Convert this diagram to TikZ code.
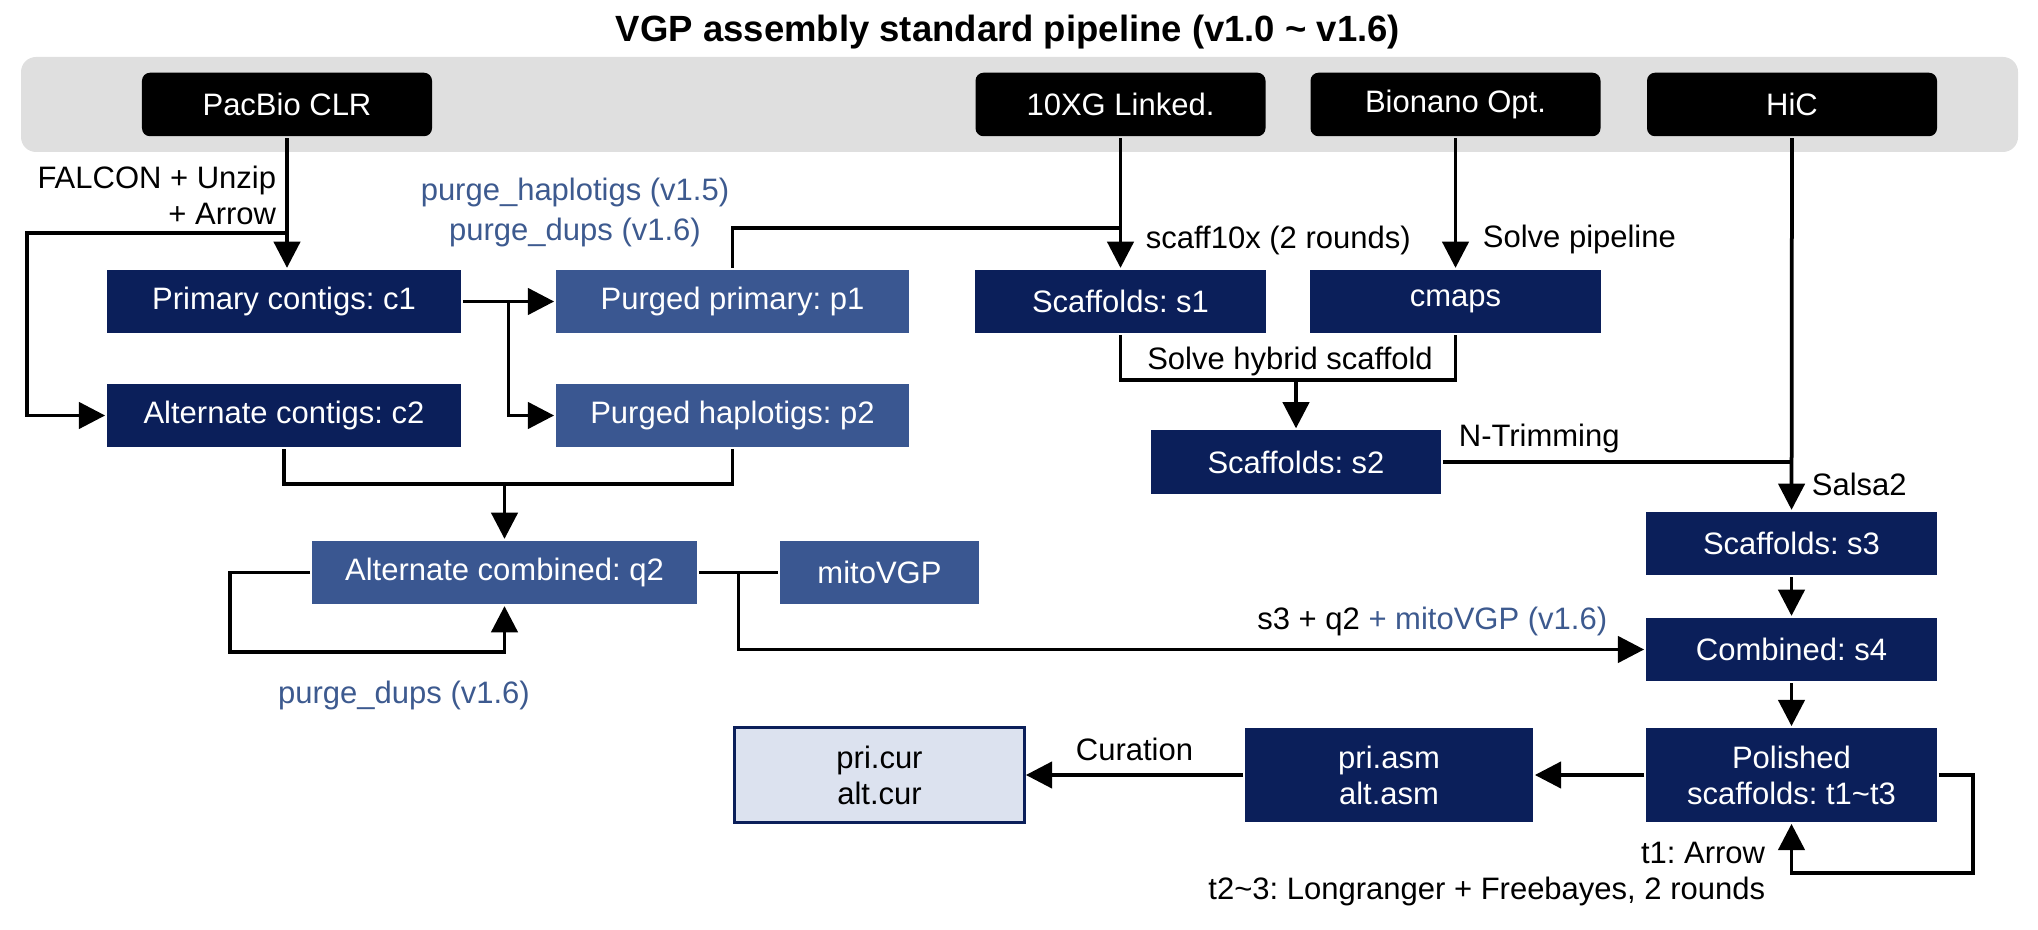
\documentclass[tikz,border=0pt]{standalone}
\usepackage{fontspec}
\setmainfont{Liberation Sans}
\usetikzlibrary{arrows.meta,calc}
\definecolor{navy}{RGB}{11,31,90}
\definecolor{midblue}{RGB}{58,87,145}
\definecolor{paleblue}{RGB}{220,226,239}
\definecolor{bandgray}{RGB}{223,223,223}
\definecolor{tagblue}{RGB}{61,90,143}
\frenchspacing

\begin{document}
\begin{tikzpicture}[x=0.4pt,y=-0.4pt,>={Triangle[length=10.5pt,width=10.5pt]},line width=1.5pt,
		font=\fontsize{12.4}{14.4}\selectfont,
		box/.style={minimum height=25.4pt,inner sep=0pt,text=white,align=center},
		src/.style={box,fill=black,rounded corners=3.2pt,minimum width=116pt},
		dark/.style={box,fill=navy},
		light/.style={box,fill=midblue},
		lbl/.style={inner sep=0pt},
		tag/.style={lbl,text=tagblue}]
		\useasboundingbox (0,0) rectangle (2038,930);
		\fill[bandgray,rounded corners=6pt] (21,57) rectangle (2018,152);
		\node[font=\bfseries\fontsize{14.6}{17}\selectfont] (title) at (1008,32) {VGP assembly standard pipeline (v1.0 \textasciitilde{} v1.6)};

		\node[src] (pb) at (287,104.5) {PacBio CLR};
		\node[src] (tx) at (1120.5,104.5) {10XG Linked.};
		\node[src] (bn) at (1455.5,104.5) {Bionano Opt.};
		\node[src] (hic) at (1792,104.5) {HiC};

		\node[dark,minimum width=141.6pt] (c1) at (284,301.5) {Primary contigs: c1};
		\node[dark,minimum width=141.6pt] (c2) at (284,415.5) {Alternate contigs: c2};
		\node[light,minimum width=141.2pt] (p1) at (732.5,301.5) {Purged primary: p1};
		\node[light,minimum width=141.2pt] (p2) at (732.5,415.5) {Purged haplotigs: p2};
		\node[light,minimum width=154pt] (q2) at (504.5,572.5) {Alternate combined: q2};
		\node[light,minimum width=79.6pt] (mt) at (879.5,572.5) {mitoVGP};

		\node[dark,minimum width=116.4pt] (s1) at (1120.5,301.5) {Scaffolds: s1};
		\node[dark,minimum width=116.4pt] (cm) at (1455.5,301.5) {cmaps};
		\node[dark,minimum width=116pt] (s2) at (1296,462) {Scaffolds: s2};
		\node[dark,minimum width=116.4pt] (s3) at (1791.5,543.5) {Scaffolds: s3};
		\node[dark,minimum width=116.4pt] (s4) at (1791.5,649.5) {Combined: s4};
		\node[dark,minimum width=116.4pt,minimum height=37.6pt] (t1) at (1791.5,775) {Polished\\scaffolds: t1\textasciitilde t3};
		\node[dark,minimum width=115.2pt,minimum height=37.6pt] (asm) at (1389,775) {pri.asm\\alt.asm};
		\node[box,fill=paleblue,draw=navy,line width=1.1pt,text=black,minimum width=116pt,minimum height=38pt] (cur) at (879.5,775) {pri.cur\\alt.cur};

		\coordinate (fl) at (27,233);
		\coordinate (pj) at (0,228);
		\coordinate (hy) at (0,380);
		\coordinate (aj) at (0,484);
		\coordinate (ql) at (230,652);
		\coordinate (tl) at (1973,873);

		\draw[->] (pb.south) -- (pb.south |- c1.north);
		\draw[->] (pb.south |- fl) -- (fl) |- (c2.west);
		\draw[->] ($(c1.east)!.5!(p1.west)$) |- (p2.west);
		\draw (p1.north) |- (s1.north |- pj);
		\draw (s1.south) |- (cm.south |- hy) -- (cm.south);
		\draw[->] (s2.north |- hy) -- (s2.north);
		\draw (s2.east) -- (s2.east -| hic.south);
		\draw (c2.south) |- (p2.south |- aj) -- (p2.south);
		\draw[->] (q2.north |- aj) -- (q2.north);
		\draw[->] ($(q2.east)!.5!(mt.west)$) |- (s4.west);
		\draw[->] (q2.west) -| (ql) -| (q2.south);
		\draw[->] (t1.east) -| (tl) -| (t1.south);
		\path[->] (c1) edge (p1)
		(q2) edge[-] (mt)
		(tx) edge (s1)
		(bn) edge (cm)
		(hic) edge (s3)
		(s3) edge (s4)
		(s4) edge (t1)
		(t1) edge (asm)
		(asm) edge node[lbl,above=5pt] {Curation} (cur);

		\node[lbl,anchor=east,align=right] at (278,195) {FALCON + Unzip\\+ Arrow};
		\node[tag,align=center,font=\fontsize{12.4}{16}\selectfont] at (575,212) {purge\_haplotigs (v1.5)\\purge\_dups (v1.6)};
		\node[lbl,anchor=west] at (1144,240) {scaff10x (2 rounds)};
		\node[lbl,anchor=west] at (1481,239) {Solve pipeline};
		\node[lbl] at (1290,361) {Solve hybrid scaffold};
		\node[lbl,anchor=west] at (1457,438) {N-Trimming};
		\node[lbl,anchor=west] at (1810,484) {Salsa2};
		\node[lbl,anchor=east] at (1609,621) {s3 + q2 \textcolor{tagblue}{+ mitoVGP (v1.6)}};
		\node[tag] at (404,695) {purge\_dups (v1.6)};
		\node[lbl,anchor=east,align=right] at (1767,874) {t1: Arrow\\t2\textasciitilde 3: Longranger + Freebayes, 2 rounds};
	\end{tikzpicture}
\end{document}
